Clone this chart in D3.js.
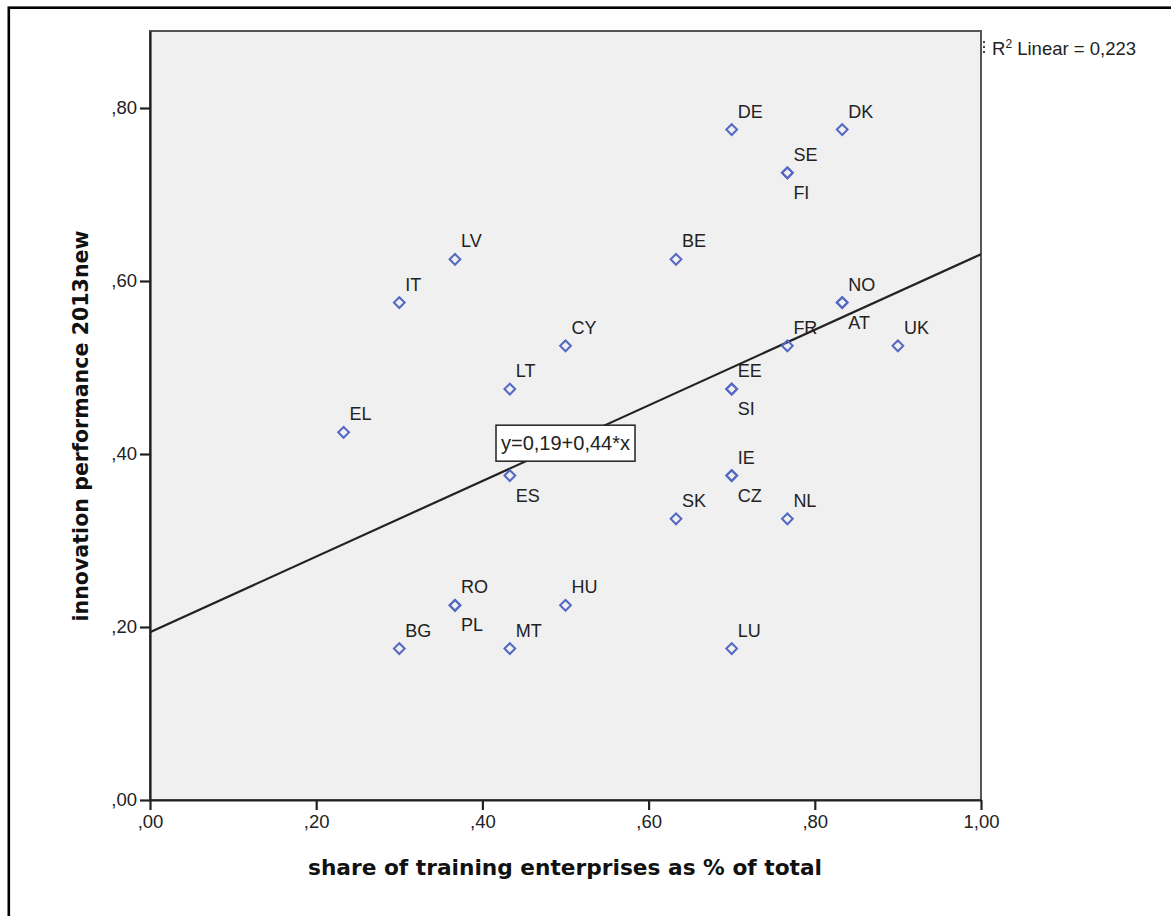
<!DOCTYPE html>
<html>
<head>
<meta charset="utf-8">
<script src="https://cdn.jsdelivr.net/npm/d3@7"></script>
<style>
  html, body { margin: 0; padding: 0; background: #fff; }
  svg { display: block; }
</style>
</head>
<body>
<svg id="chart" width="1171" height="916"></svg>
<script>
// ---- data ----
const countries = ["DE","DK","SE","FI","LV","BE","IT","NO","AT","CY","FR","UK","LT","EE","SI","EL","ES","IE","CZ","SK","NL","RO","PL","HU","BG","MT","LU"];
const trainingShare = [0.700,0.833,0.767,0.767,0.367,0.633,0.300,0.833,0.833,0.500,0.767,0.900,0.433,0.700,0.700,0.233,0.433,0.700,0.700,0.633,0.767,0.367,0.367,0.500,0.300,0.433,0.700];
const innovation = [0.775,0.775,0.725,0.725,0.625,0.625,0.575,0.575,0.575,0.525,0.525,0.525,0.475,0.475,0.475,0.425,0.375,0.375,0.375,0.325,0.325,0.225,0.225,0.225,0.175,0.175,0.175];
const xTicks = [0, 0.2, 0.4, 0.6, 0.8, 1.0];
const yTicks = [0, 0.2, 0.4, 0.6, 0.8];
const fitIntercept = 0.194;
const fitSlope = 0.437;
const equationText = "y=0,19+0,44*x";
const rSquaredText = "0,223";
const xTitle = "share of training enterprises as % of total";
const yTitle = "innovation performance 2013new";
// labels drawn beneath their marker (overlapping pairs)
const labelsBelow = new Set(["FI","AT","SI","CZ","PL","ES"]);

// ---- layout ----
const svg = d3.select("#chart");
const plot = {left: 150, right: 981, top: 31, bottom: 800};
const x = d3.scaleLinear().domain([0, 1]).range([plot.left, plot.right]);
const y = d3.scaleLinear().domain([0, 0.889]).range([plot.bottom, plot.top]);
const fmt = v => d3.format(".2f")(v).replace(/^0/, "").replace(".", ",");
const textColor = "#222";
const sans = "'Liberation Sans', Arial, sans-serif";

// outer border
svg.append("rect").attr("x", 8.8).attr("y", 7.7).attr("width", 1200).attr("height", 1000)
  .attr("fill", "none").attr("stroke", "#000").attr("stroke-width", 2.6);

// plot background / frame
svg.append("rect").attr("x", plot.left).attr("y", plot.top)
  .attr("width", plot.right - plot.left).attr("height", plot.bottom - plot.top)
  .attr("fill", "#f0f0f0").attr("stroke", "#555").attr("stroke-width", 2);

// axes
const xAxis = d3.axisBottom(x).tickValues(xTicks).tickFormat(fmt).tickSize(10).tickSizeOuter(0);
const yAxis = d3.axisLeft(y).tickValues(yTicks).tickFormat(fmt).tickSize(10).tickSizeOuter(0);
const gx = svg.append("g").attr("transform", `translate(0,${plot.bottom})`).call(xAxis);
const gy = svg.append("g").attr("transform", `translate(${plot.left},0)`).call(yAxis);
[gx, gy].forEach(g => {
  g.select(".domain").attr("stroke", "#222").attr("stroke-width", 2.2);
  g.selectAll(".tick line").attr("stroke", "#222").attr("stroke-width", 2.2);
  g.selectAll(".tick text").attr("fill", textColor).style("font-family", sans).style("font-size", "18.5px");
});
gx.selectAll(".tick text").attr("dy", "0.71em").attr("y", 15);
gy.selectAll(".tick text").attr("x", -13);

// regression line
svg.append("clipPath").attr("id", "clip").append("rect")
  .attr("x", plot.left).attr("y", plot.top).attr("width", plot.right - plot.left).attr("height", plot.bottom - plot.top);
svg.append("line").attr("clip-path", "url(#clip)")
  .attr("x1", x(0)).attr("y1", y(fitIntercept))
  .attr("x2", x(1)).attr("y2", y(fitIntercept + fitSlope))
  .attr("stroke", "#222").attr("stroke-width", 2.2);

// points
const pts = countries.map((c, i) => ({c, x: trainingShare[i], y: innovation[i]}));
const diamond = d3.symbol().type(d3.symbolSquare).size(58);
svg.append("g").selectAll("path").data(pts).join("path")
  .attr("d", diamond)
  .attr("transform", d => `translate(${x(d.x)},${y(d.y)}) rotate(45)`)
  .attr("fill", "none").attr("stroke", "#5468c4").attr("stroke-width", 2);

// point labels
svg.append("g").selectAll("text").data(pts).join("text")
  .attr("x", d => x(d.x) + 6)
  .attr("y", d => labelsBelow.has(d.c) ? y(d.y) + 26 : y(d.y) - 12)
  .attr("fill", textColor).style("font-family", sans).style("font-size", "18px")
  .text(d => d.c);

// equation box, centred on the fit line at x = 0.5
const eqX = 0.5, eqY = fitIntercept + fitSlope * eqX;
const eqG = svg.append("g").attr("transform", `translate(${x(eqX)},${y(eqY)})`);
const eqText = eqG.append("text").attr("text-anchor", "middle").attr("dy", "0.35em")
  .attr("fill", textColor).style("font-family", sans).style("font-size", "20px").text(equationText);
const bb = eqText.node().getBBox();
eqG.insert("rect", "text").attr("x", bb.x - 5).attr("y", -18).attr("width", bb.width + 10).attr("height", 36)
  .attr("fill", "#fff").attr("stroke", "#222").attr("stroke-width", 1.5);

// R² legend
svg.append("line").attr("x1", 984).attr("x2", 984).attr("y1", 41).attr("y2", 55)
  .attr("stroke", "#444").attr("stroke-width", 2).attr("stroke-dasharray", "2,3");
const rt = svg.append("text").attr("x", 992).attr("y", 55).attr("fill", textColor)
  .style("font-family", sans).style("font-size", "18.5px");
rt.append("tspan").text("R");
rt.append("tspan").attr("dy", -7).style("font-size", "12px").text("2");
rt.append("tspan").attr("dy", 7).text(" Linear = " + rSquaredText);

// axis titles
svg.append("text").attr("x", 565).attr("y", 875).attr("text-anchor", "middle")
  .attr("fill", "#111").style("font-family", "'DejaVu Sans', Verdana, sans-serif")
  .style("font-weight", "bold").style("font-size", "21.7px").text(xTitle);
svg.append("text").attr("transform", "translate(88,426) rotate(-90)").attr("text-anchor", "middle")
  .attr("fill", "#111").style("font-family", "'DejaVu Sans', Verdana, sans-serif")
  .style("font-weight", "bold").style("font-size", "20.6px").text(yTitle);
</script>
</body>
</html>
